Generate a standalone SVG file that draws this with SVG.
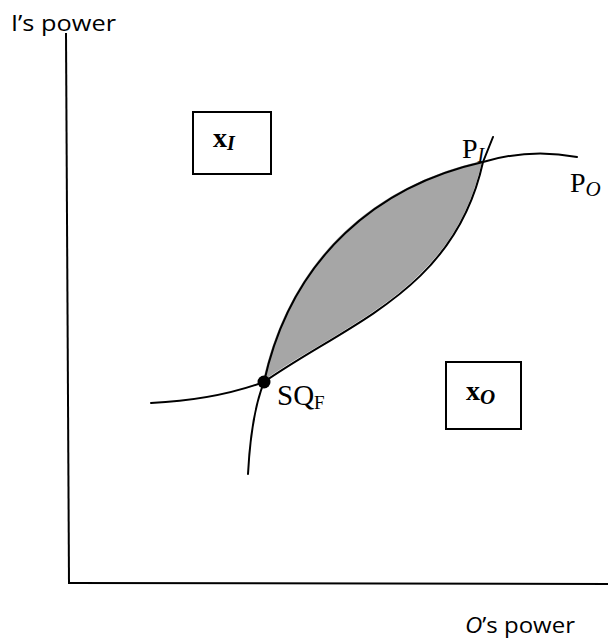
<svg xmlns="http://www.w3.org/2000/svg" width="608" height="641" viewBox="0 0 608 641">
<style>
.ax{stroke:#000;stroke-width:2;fill:none}
.cv{stroke:#000;stroke-width:2;fill:none;stroke-linecap:round}
.box{fill:#fff;stroke:#000;stroke-width:2}
.sans{font-family:"Open Sans","DejaVu Sans",sans-serif;fill:#000}
.serif{font-family:"Liberation Serif","Times New Roman",serif;fill:#000}
</style>
<rect width="608" height="641" fill="#fff"/>
<g id="axes">
<line class="ax" x1="66" y1="33" x2="69" y2="584"/>
<line class="ax" x1="68" y1="583" x2="608" y2="584"/>
<text class="sans" x="11" y="31" font-size="21" textLength="105" lengthAdjust="spacingAndGlyphs">I’s power</text>
<text class="sans" x="465" y="633" font-size="22" textLength="110" lengthAdjust="spacingAndGlyphs"><tspan font-style="italic">O</tspan>’s power</text>
</g>
<g id="region">
<path d="M264,382 C292,255 380,185 483,162 C455,290 350,322 264,382 Z" fill="#a6a6a6" stroke="none" transform="translate(-1,-1)"/>
</g>
<g id="connectors">
<path id="PO-curve" class="cv" d="M151,403 Q215,400 264,382 C292,255 380,185 483,162 Q530,148 577,157"/>
<path id="PI-curve" class="cv" d="M248,474 Q251,415 264,382 C350,322 455,290 483,162 L493,137"/>
</g>
<g id="SQ">
<circle cx="264" cy="382" r="6.5" fill="#000"/>
<text class="serif" x="277" y="405" font-size="29">SQ<tspan font-size="19" dy="4">F</tspan></text>
</g>
<g id="label-PI">
<text class="serif" x="462" y="158" font-size="28">P<tspan font-size="20" font-style="italic" dy="4">I</tspan></text>
</g>
<g id="label-PO">
<text class="serif" x="570" y="192" font-size="28">P<tspan font-size="21" font-style="italic" dy="4">O</tspan></text>
</g>
<g id="xI">
<rect class="box" x="193" y="112" width="78" height="62"/>
<text class="serif" x="213" y="147" font-size="28" font-weight="bold">x<tspan font-size="20" font-style="italic" dy="3">I</tspan></text>
</g>
<g id="xO">
<rect class="box" x="446" y="362" width="75" height="67"/>
<text class="serif" x="466" y="400" font-size="28" font-weight="bold">x<tspan font-size="21" font-style="italic" dy="4">O</tspan></text>
</g>
</svg>
